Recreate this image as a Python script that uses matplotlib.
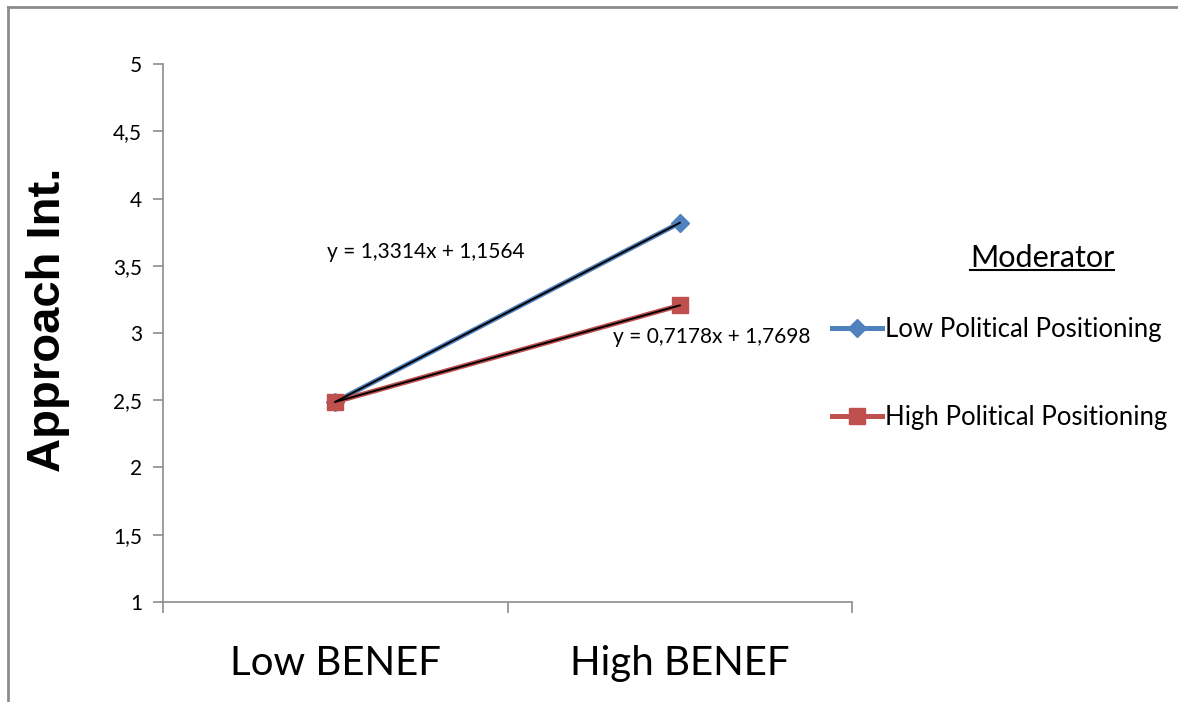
import numpy as np
import matplotlib.pyplot as plt
from matplotlib.lines import Line2D

plt.rcParams['font.family'] = ['Lato', 'DejaVu Sans']

categories = ['Low BENEF', 'High BENEF']
series_names = ['Low Political Positioning', 'High Political Positioning']
low_pol = [2.4878, 3.8192]
high_pol = [2.4876, 3.2054]
yticks = [1, 1.5, 2, 2.5, 3, 3.5, 4, 4.5, 5]
ytick_labels = ['1', '1,5', '2', '2,5', '3', '3,5', '4', '4,5', '5']

blue = '#4F81BD'
red = '#C0504D'
grey = '#8C8C8C'

fig = plt.figure(figsize=(11.78, 7.02), dpi=100)
ax = fig.add_axes([0.1384, 0.1425, 0.7233 - 0.1384, 0.9088 - 0.1425])

x = np.arange(len(categories))
l1, = ax.plot(x, low_pol, color=blue, lw=3.6, marker='D', ms=9, zorder=2,
              label=series_names[0])
l2, = ax.plot(x, high_pol, color=red, lw=3.6, marker='s', ms=11, zorder=2,
              label=series_names[1])

# linear trendlines (Excel numbers categories 1, 2)
xe = x + 1
for vals in (low_pol, high_pol):
    k, b = np.polyfit(xe, vals, 1)
    ax.plot(x, np.polyval([k, b], xe), color='black', lw=1.4, zorder=3)

k1, b1 = np.polyfit(xe, low_pol, 1)
k2, b2 = np.polyfit(xe, high_pol, 1)
fmt = lambda v: '{:.4f}'.format(v).replace('.', ',')
ax.text(-0.025, 3.6, 'y = %sx + %s' % (fmt(k1), fmt(b1)), fontsize=15,
        ha='left', va='center')
ax.text(0.805, 2.97, 'y = %sx + %s' % (fmt(k2), fmt(b2)), fontsize=15,
        ha='left', va='center')

ax.set_xlim(-0.5, 1.5)
ax.set_ylim(1, 5)
ax.set_yticks(yticks)
ax.set_yticklabels(ytick_labels, fontsize=15)
ax.set_xticks(x)
ax.set_xticklabels(categories, fontsize=29)
ax.set_xticks([-0.5, 0.5, 1.5], minor=True)
ax.tick_params(axis='x', which='major', length=0, pad=31)
ax.tick_params(axis='x', which='minor', length=8, color=grey, width=1.2)
ax.tick_params(axis='y', length=7, color=grey, width=1.2, pad=8)
for s in ['top', 'right']:
    ax.spines[s].set_visible(False)
for s in ['left', 'bottom']:
    ax.spines[s].set_color(grey)
    ax.spines[s].set_linewidth(1.2)

fig.text(0.041, 0.544, 'Approach Int.', rotation=90, ha='center', va='center',
         fontsize=34, fontweight='bold', family='Liberation Sans')

# legend
leg = fig.legend(handles=[l1, l2], loc='upper left',
                 bbox_to_anchor=(0.7063, 0.549), frameon=False, fontsize=18.5,
                 handlelength=1.95, handletextpad=0.1, labelspacing=2.47,
                 borderpad=0, borderaxespad=0)

t = fig.text(0.8846, 0.6325, 'Moderator', fontsize=22, ha='center', va='center')
fig.canvas.draw()
bb = t.get_window_extent().transformed(fig.transFigure.inverted())
fig.add_artist(Line2D([bb.x0, bb.x1], [bb.y0 + 0.003, bb.y0 + 0.003],
                      transform=fig.transFigure, color='black', lw=1.5))

# outer frame
fig.add_artist(Line2D([8 / 1178, 8 / 1178], [0, 1 - 7 / 702],
                      transform=fig.transFigure, color=grey, lw=2))
fig.add_artist(Line2D([8 / 1178, 1], [1 - 7 / 702, 1 - 7 / 702],
                      transform=fig.transFigure, color=grey, lw=2))

fig.savefig('out.png', dpi=100)
